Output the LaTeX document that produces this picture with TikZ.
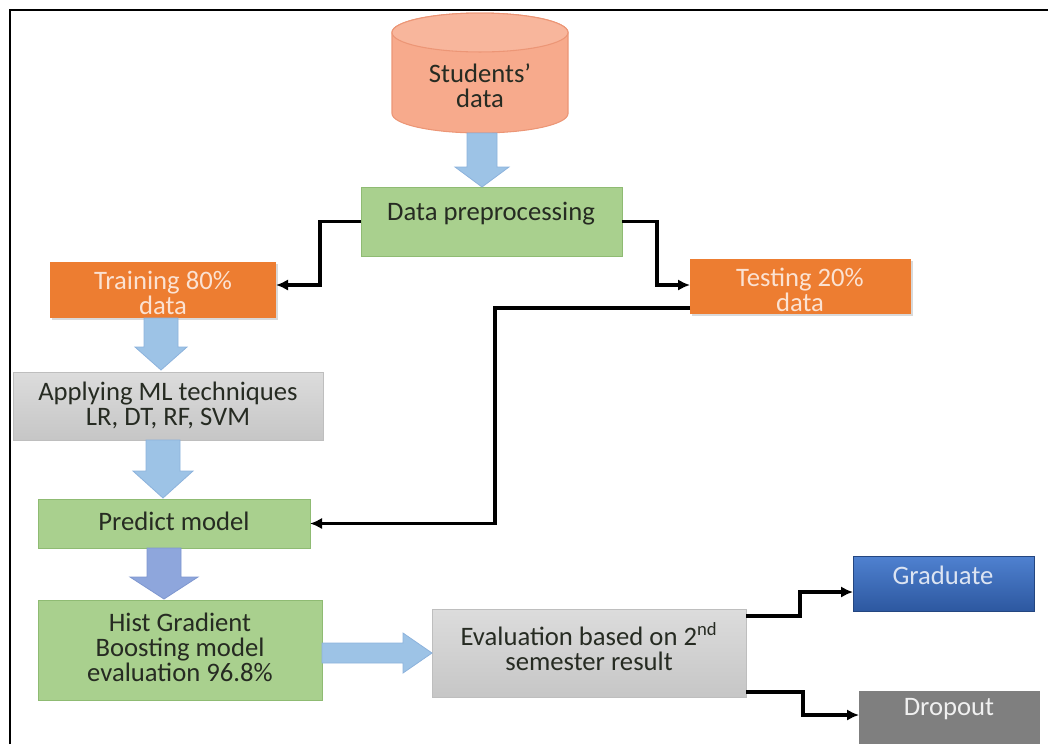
\documentclass[tikz,border=0pt]{standalone}
\usepackage{fontspec}
\setmainfont{Carlito}
\usetikzlibrary{arrows.meta,shadows}
\definecolor{grn}{HTML}{A9D08E}
\definecolor{grnedge}{HTML}{8FBB73}
\definecolor{org}{HTML}{ED7D31}
\definecolor{orgtxt}{HTML}{FBE2D2}
\definecolor{gtop}{HTML}{DCDCDC}
\definecolor{gbot}{HTML}{C6C6C6}
\definecolor{gedge}{HTML}{BEBEBE}
\definecolor{btop}{HTML}{4F81D0}
\definecolor{bbot}{HTML}{2D58A0}
\definecolor{btxt}{HTML}{DCE4F2}
\definecolor{drp}{HTML}{7F7F7F}
\definecolor{drptxt}{HTML}{F0F0F0}
\definecolor{txtdark}{HTML}{262B22}
\definecolor{arw}{HTML}{9DC3E6}
\definecolor{arwedge}{HTML}{8CB2DC}
\definecolor{arwdark}{HTML}{8EA6DC}
\definecolor{arwdarkedge}{HTML}{7F97CF}
\definecolor{cylfill}{HTML}{F7AA8C}
\definecolor{cyltopfill}{HTML}{F8B69C}
\definecolor{cyledge}{HTML}{EC9676}
\tikzset{
  box/.style={rectangle, inner sep=0pt, outer sep=0pt},
  greenbox/.style={box, fill=grn, draw=grnedge, line width=0.6pt},
  orangebox/.style={box, fill=org, drop shadow={shadow xshift=1.5pt, shadow yshift=-1.5pt, opacity=0.3}},
  graybox/.style={box, top color=gtop, bottom color=gbot, draw=gedge, line width=0.6pt},
  gradbox/.style={box, top color=btop, bottom color=bbot, draw=bbot!80!black, line width=0.4pt},
  dropbox/.style={box, fill=drp},
  txt/.style={font=\fontsize{20}{18.8}\selectfont, text=txtdark, align=center, inner sep=0pt},
  wtxt/.style={txt, text=orgtxt},
  conn/.style={line width=2.4pt, -{Latex[length=9pt,width=8.5pt]}},
  barrow/.style={fill=arw, draw=arwedge, line width=0.6pt},
  barrowdark/.style={fill=arwdark, draw=arwdarkedge, line width=0.6pt},
  cylbody/.style={fill=cylfill, draw=cyledge, line width=0.8pt},
  cyltop/.style={fill=cyltopfill, draw=cyledge, line width=0.8pt},
  frame/.style={line width=2pt}
}
% box by pixel corners
\newcommand{\pxbox}[6]{\node[#6, minimum width={(#4-(#2))*0.75pt}, minimum height={(#5-(#3))*0.75pt}] (#1) at ({(#2+#4)/2},{(#3+#5)/2}) {};}
% downward block arrow: x centre, top y, tip y, shaft half, head half, head length, style
\newcommand{\bdown}[7]{\filldraw[#7] ({#1-#4},#2) -- ({#1+#4},#2) -- ({#1+#4},{#3-#6}) -- ({#1+#5},{#3-#6}) -- (#1,#3) -- ({#1-#5},{#3-#6}) -- ({#1-#4},{#3-#6}) -- cycle;}
\begin{document}
\begin{tikzpicture}[x=0.75pt, y=-0.75pt]
\useasboundingbox (0,0) rectangle (1048,744);
% frame
\draw[frame] (10,744) -- (10,10) -- (1048,10);

% cylinder
\node[box, minimum width=132pt, minimum height=90pt] (cyl) at (480,73) {};
\filldraw[cylbody] (392,32.5) -- (392,113.5) arc[start angle=180, end angle=360, x radius=66pt, y radius=14.6pt] -- (568,32.5) arc[start angle=0, end angle=180, x radius=66pt, y radius=14.6pt] -- cycle;
\filldraw[cyltop] (480,32.5) ellipse[x radius=66pt, y radius=14.6pt];
\node[txt] (cyl-t) at (480,86) {Students’\\data};

% boxes
\pxbox{dp}{361}{187}{622}{256}{greenbox}
\node[txt] (dp-t) at (491,214) {Data preprocessing};

\pxbox{train}{50}{262}{276}{318}{orangebox}
\node[wtxt] (train-t) at (163,293) {Training 80\%\\data};

\pxbox{test}{690}{259}{911}{314}{orangebox}
\node[wtxt] (test-t) at (800,290) {Testing 20\%\\data};

\pxbox{ml}{13}{372}{323}{440}{graybox}
\node[txt] (ml-t) at (168,405) {Applying ML techniques\\LR, DT, RF, SVM};

\pxbox{pred}{38}{499}{310}{548}{greenbox}
\node[txt] (pred-t) at (174,521) {Predict model};

\pxbox{hist}{38}{600}{322}{700}{greenbox}
\node[txt] (hist-t) at (180,647) {Hist Gradient\\Boosting model\\evaluation 96.8\%};

\pxbox{eval}{432}{609}{746}{697}{graybox}
\node[txt] (eval-t) at (589,647) {Evaluation based on 2\textsuperscript{nd}\\semester result};

\pxbox{grad}{853}{556}{1034}{611}{gradbox}
\node[txt, text=btxt] (grad-t) at (943,575) {Graduate};

\pxbox{drop}{859}{691}{1040}{744}{dropbox}
\node[txt, text=drptxt] (drop-t) at (949,709) {Dropout};

% block arrows
\bdown{482}{133}{187}{15}{27}{20}{barrow}
\bdown{161}{318}{370}{17}{26}{23}{barrow}
\bdown{163}{440}{498}{17}{30}{27}{barrow}
\bdown{164}{548}{599}{17}{34}{22}{barrowdark}
\filldraw[barrow] (322,643) -- (403,643) -- (403,633) -- (432,653) -- (403,673) -- (403,663) -- (322,663) -- cycle;

% connectors
\draw[conn] (dp.west) -| (320,285) -- (train.east |- 320,285);
\draw[conn] (dp.east) -| (657,285) -- (test.west |- 657,285);
\draw[conn] (test.west |- 0,308) -| (495,523.5) -- (pred.east);
\draw[conn] (eval.east |- 0,616) -| (800,592) -- (grad.west |- 0,592);
\draw[conn] (eval.east |- 0,692) -| (803,715) -- (drop.west |- 0,715);
\end{tikzpicture}
\end{document}
